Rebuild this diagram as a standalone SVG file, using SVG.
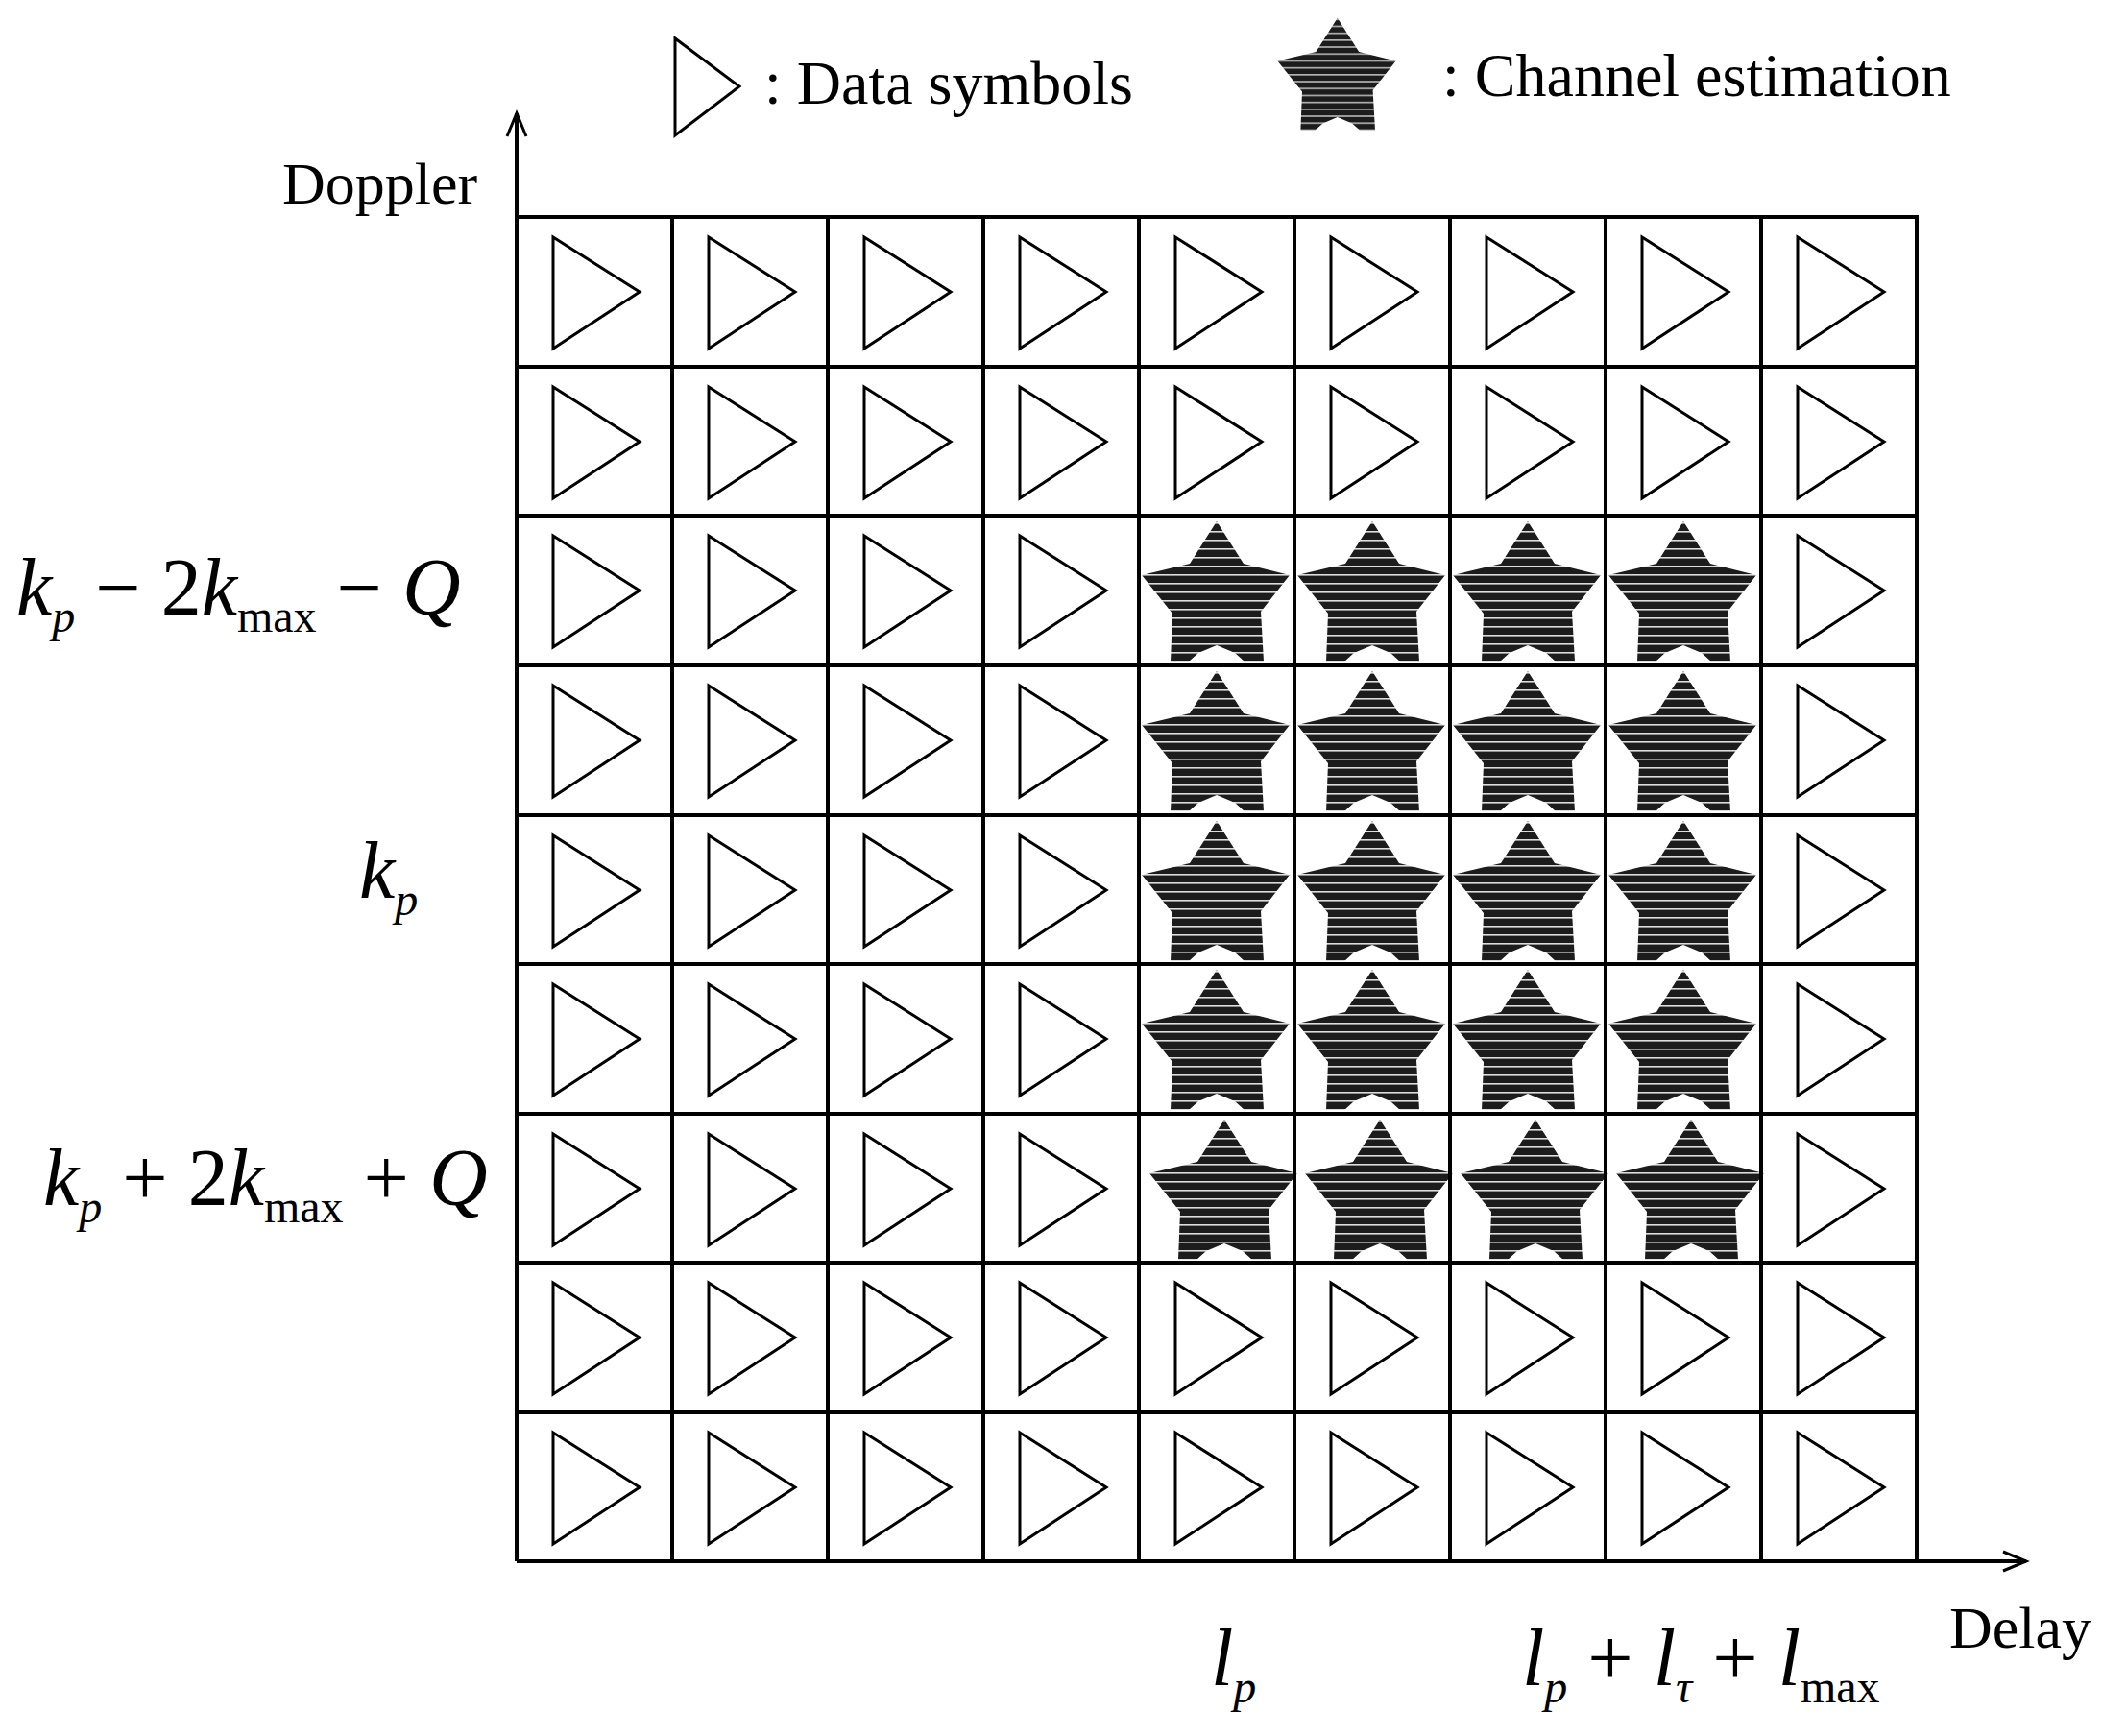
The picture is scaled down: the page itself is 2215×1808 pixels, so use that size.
<svg xmlns="http://www.w3.org/2000/svg" width="2215" height="1808" viewBox="0 0 2215 1808">
<style>
.g{stroke:#000;stroke-width:4;fill:none}
.t{fill:#fff;stroke:#000;stroke-width:3}
.s{fill:url(#st)}
text{font-family:"Liberation Serif","Times New Roman",serif;fill:#000}
.m{font-style:italic;font-size:84px}
.sub{font-style:italic;font-size:48px}
.rm{font-style:normal}
</style>
<defs>
<pattern id="st" width="10" height="9" patternUnits="userSpaceOnUse">
<rect width="10" height="9" fill="#1c1c1c"/><rect y="7" width="10" height="1.6" fill="#ddd"/>
</pattern>
<polygon id="star" class="s" points="81,6 109,50 157,62 127,100 130,152 110,152 100,143 81,135 62,143 52,152 33,152 35,102 3,62 53,50"/>
<polygon id="tri" class="t" points="38,21 128,78 38,137"/>
<marker id="ah" markerWidth="30" markerHeight="30" refX="26" refY="12" orient="auto" markerUnits="userSpaceOnUse"><path d="M2,2 L26,12 L2,22" fill="none" stroke="#000" stroke-width="3"/></marker>
</defs>
<rect width="2215" height="1808" fill="#fff"/>
<g id="legend">
<polygon class="t" points="703,40 770,90 703,141"/>
<text x="796" y="108" font-size="64">: Data symbols</text>
<use href="#star" transform="translate(1328,14) scale(0.8)"/>
<text x="1502" y="100" font-size="64">: Channel estimation</text>
</g>
<g id="connectors">
<line x1="538" y1="1626" x2="538" y2="118" class="g" marker-end="url(#ah)"/>
<line x1="538" y1="1626" x2="2110" y2="1626" class="g" marker-end="url(#ah)"/>
</g>
<g id="cells">
<use href="#tri" x="538" y="226"/><use href="#tri" x="700" y="226"/><use href="#tri" x="862" y="226"/><use href="#tri" x="1024" y="226"/><use href="#tri" x="1186" y="226"/><use href="#tri" x="1348" y="226"/><use href="#tri" x="1510" y="226"/><use href="#tri" x="1672" y="226"/><use href="#tri" x="1834" y="226"/>
<use href="#tri" x="538" y="382"/><use href="#tri" x="700" y="382"/><use href="#tri" x="862" y="382"/><use href="#tri" x="1024" y="382"/><use href="#tri" x="1186" y="382"/><use href="#tri" x="1348" y="382"/><use href="#tri" x="1510" y="382"/><use href="#tri" x="1672" y="382"/><use href="#tri" x="1834" y="382"/>
<use href="#tri" x="538" y="537"/><use href="#tri" x="700" y="537"/><use href="#tri" x="862" y="537"/><use href="#tri" x="1024" y="537"/><use href="#star" x="1186" y="537"/><use href="#star" x="1348" y="537"/><use href="#star" x="1510" y="537"/><use href="#star" x="1672" y="537"/><use href="#tri" x="1834" y="537"/>
<use href="#tri" x="538" y="693"/><use href="#tri" x="700" y="693"/><use href="#tri" x="862" y="693"/><use href="#tri" x="1024" y="693"/><use href="#star" x="1186" y="693"/><use href="#star" x="1348" y="693"/><use href="#star" x="1510" y="693"/><use href="#star" x="1672" y="693"/><use href="#tri" x="1834" y="693"/>
<use href="#tri" x="538" y="849"/><use href="#tri" x="700" y="849"/><use href="#tri" x="862" y="849"/><use href="#tri" x="1024" y="849"/><use href="#star" x="1186" y="849"/><use href="#star" x="1348" y="849"/><use href="#star" x="1510" y="849"/><use href="#star" x="1672" y="849"/><use href="#tri" x="1834" y="849"/>
<use href="#tri" x="538" y="1004"/><use href="#tri" x="700" y="1004"/><use href="#tri" x="862" y="1004"/><use href="#tri" x="1024" y="1004"/><use href="#star" x="1186" y="1004"/><use href="#star" x="1348" y="1004"/><use href="#star" x="1510" y="1004"/><use href="#star" x="1672" y="1004"/><use href="#tri" x="1834" y="1004"/>
<use href="#tri" x="538" y="1160"/><use href="#tri" x="700" y="1160"/><use href="#tri" x="862" y="1160"/><use href="#tri" x="1024" y="1160"/><use href="#star" x="1194" y="1160"/><use href="#star" x="1356" y="1160"/><use href="#star" x="1518" y="1160"/><use href="#star" x="1680" y="1160"/><use href="#tri" x="1834" y="1160"/>
<use href="#tri" x="538" y="1315"/><use href="#tri" x="700" y="1315"/><use href="#tri" x="862" y="1315"/><use href="#tri" x="1024" y="1315"/><use href="#tri" x="1186" y="1315"/><use href="#tri" x="1348" y="1315"/><use href="#tri" x="1510" y="1315"/><use href="#tri" x="1672" y="1315"/><use href="#tri" x="1834" y="1315"/>
<use href="#tri" x="538" y="1471"/><use href="#tri" x="700" y="1471"/><use href="#tri" x="862" y="1471"/><use href="#tri" x="1024" y="1471"/><use href="#tri" x="1186" y="1471"/><use href="#tri" x="1348" y="1471"/><use href="#tri" x="1510" y="1471"/><use href="#tri" x="1672" y="1471"/><use href="#tri" x="1834" y="1471"/>
</g>
<g id="grid" class="g">
<path d="M538,226H1996V1626M538,382H1996M538,537H1996M538,693H1996M538,849H1996M538,1004H1996M538,1160H1996M538,1315H1996M538,1471H1996M700,226V1626M862,226V1626M1024,226V1626M1186,226V1626M1348,226V1626M1510,226V1626M1672,226V1626M1834,226V1626"/>
</g>
<g id="labels">
<text x="294" y="212" font-size="62">Doppler</text>
<text x="2030" y="1716" font-size="62">Delay</text>
<text x="17" y="640" class="m">k<tspan class="sub" dy="18">p</tspan><tspan class="rm" dy="-18"> − 2</tspan>k<tspan class="sub rm" dy="18">max</tspan><tspan class="rm" dy="-18"> − </tspan>Q</text>
<text x="374" y="935" class="m">k<tspan class="sub" dy="18">p</tspan></text>
<text x="45" y="1255" class="m">k<tspan class="sub" dy="18">p</tspan><tspan class="rm" dy="-18"> + 2</tspan>k<tspan class="sub rm" dy="18">max</tspan><tspan class="rm" dy="-18"> + </tspan>Q</text>
<text x="1261" y="1755" class="m">l<tspan class="sub" dy="18">p</tspan></text>
<text x="1585" y="1755" class="m">l<tspan class="sub" dy="18">p</tspan><tspan class="rm" dy="-18"> + </tspan>l<tspan class="sub" dy="18">τ</tspan><tspan class="rm" dy="-18"> + </tspan>l<tspan class="sub rm" dy="18">max</tspan></text>
</g>
</svg>
